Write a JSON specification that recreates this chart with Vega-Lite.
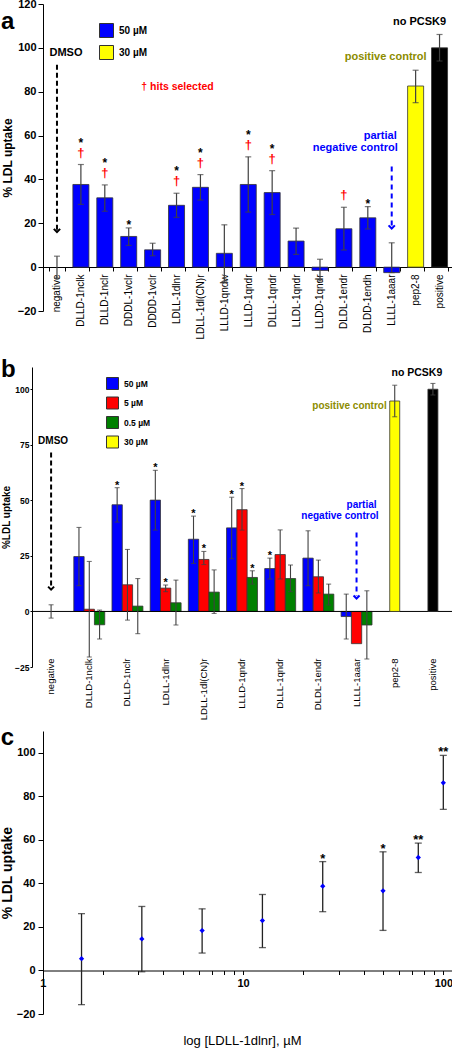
{
"$schema":"https://vega.github.io/schema/vega-lite/v6.json",
"padding":{"left":0,"top":-2,"right":0,"bottom":0},
"background":"white",
"config":{"font":"Liberation Sans","view":{"stroke":null},"axis":{"grid":false,"domainColor":"#000","tickColor":"#000","labelColor":"#000","titleColor":"#000","domainWidth":1,"tickWidth":1},"text":{"font":"Liberation Sans"}},
"resolve":{"scale":{"color":"independent"},"legend":{"color":"independent"}},
"datasets":{
"a":[
{"cat":"negative","v":null,"lo":-5,"hi":5,"grp":"50 µM","star":0,"dag":0},
{"cat":"DLLD-1nclk","v":37.7,"lo":28.6,"hi":46.8,"grp":"50 µM","star":1,"dag":1},
{"cat":"DLLD-1nclr","v":31.6,"lo":25.5,"hi":37.5,"grp":"50 µM","star":1,"dag":1},
{"cat":"DDDL-1vclr","v":14,"lo":9.9,"hi":17.9,"grp":"50 µM","star":1,"dag":0},
{"cat":"DDDD-1vclr","v":7.9,"lo":5.2,"hi":10.9,"grp":"50 µM","star":0,"dag":0},
{"cat":"LDLL-1dlnr","v":28.2,"lo":22.7,"hi":33.7,"grp":"50 µM","star":1,"dag":1},
{"cat":"LDLL-1dl(CN)r","v":36.4,"lo":30.6,"hi":42.2,"grp":"50 µM","star":1,"dag":1},
{"cat":"LLLD-1qndw","v":6.3,"lo":-6.7,"hi":19.3,"grp":"50 µM","star":0,"dag":0},
{"cat":"LLLD-1qndr","v":37.7,"lo":25.1,"hi":50.3,"grp":"50 µM","star":1,"dag":1},
{"cat":"DLLL-1qndr","v":34,"lo":24,"hi":44,"grp":"50 µM","star":1,"dag":1},
{"cat":"LLDL-1qndr","v":11.9,"lo":5.8,"hi":17.8,"grp":"50 µM","star":0,"dag":0},
{"cat":"LLDD-1qndr","v":-1.5,"lo":-6.3,"hi":3.6,"grp":"50 µM","star":0,"dag":0},
{"cat":"DLDL-1endr","v":17.5,"lo":7.8,"hi":27.3,"grp":"50 µM","star":0,"dag":1},
{"cat":"DLDD-1endh","v":22.5,"lo":17.4,"hi":27.6,"grp":"50 µM","star":1,"dag":0},
{"cat":"LLLL-1aaar","v":-2.5,"lo":-2.5,"hi":11.1,"grp":"50 µM","star":0,"dag":0},
{"cat":"pep2-8","v":82.6,"lo":75,"hi":89.8,"grp":"30 µM","star":0,"dag":0},
{"cat":"positive","v":100,"lo":94,"hi":106.1,"grp":"no PCSK9","star":0,"dag":0}
],
"bg":[
{"cat":"DLLD-1nclk","conc":"50 µM","v":24.7,"lo":11.6,"hi":37.8,"star":0},
{"cat":"DLLD-1nclk","conc":"5 µM","v":1,"lo":-20.5,"hi":22.5,"star":0},
{"cat":"DLLD-1nclk","conc":"0.5 µM","v":-6,"lo":-12.4,"hi":0.6,"star":0},
{"cat":"DLLD-1nclr","conc":"50 µM","v":48,"lo":40.2,"hi":55.7,"star":1},
{"cat":"DLLD-1nclr","conc":"5 µM","v":12,"lo":-3.9,"hi":27.9,"star":0},
{"cat":"DLLD-1nclr","conc":"0.5 µM","v":2.4,"lo":-10,"hi":14.8,"star":0},
{"cat":"LDLL-1dlnr","conc":"50 µM","v":50.1,"lo":36.6,"hi":63.5,"star":1},
{"cat":"LDLL-1dlnr","conc":"5 µM","v":10.5,"lo":8.9,"hi":11.9,"star":1},
{"cat":"LDLL-1dlnr","conc":"0.5 µM","v":3.9,"lo":-6.1,"hi":14.1,"star":0},
{"cat":"LDLL-1dl(CN)r","conc":"50 µM","v":32.5,"lo":21.6,"hi":42.9,"star":1},
{"cat":"LDLL-1dl(CN)r","conc":"5 µM","v":23.4,"lo":21.1,"hi":27,"star":1},
{"cat":"LDLL-1dl(CN)r","conc":"0.5 µM","v":8.7,"lo":-0.9,"hi":18.7,"star":0},
{"cat":"LLLD-1qndr","conc":"50 µM","v":37.6,"lo":23.7,"hi":51.4,"star":1},
{"cat":"LLLD-1qndr","conc":"5 µM","v":45.8,"lo":36.6,"hi":55.3,"star":1},
{"cat":"LLLD-1qndr","conc":"0.5 µM","v":15.3,"lo":12.3,"hi":18.3,"star":1},
{"cat":"DLLL-1qndr","conc":"50 µM","v":19.3,"lo":14.6,"hi":24,"star":1},
{"cat":"DLLL-1qndr","conc":"5 µM","v":25.6,"lo":14.6,"hi":36.7,"star":0},
{"cat":"DLLL-1qndr","conc":"0.5 µM","v":14.8,"lo":8.9,"hi":20.9,"star":0},
{"cat":"DLDL-1endr","conc":"50 µM","v":24,"lo":11.6,"hi":36.3,"star":0},
{"cat":"DLDL-1endr","conc":"5 µM","v":15.6,"lo":8.3,"hi":23.1,"star":0},
{"cat":"DLDL-1endr","conc":"0.5 µM","v":7.8,"lo":2.9,"hi":12.3,"star":0},
{"cat":"LLLL-1aaar","conc":"50 µM","v":-2.3,"lo":-12.4,"hi":7.8,"star":0},
{"cat":"LLLL-1aaar","conc":"5 µM","v":-14.5,"lo":null,"hi":null,"star":0},
{"cat":"LLLL-1aaar","conc":"0.5 µM","v":-6.1,"lo":-21.4,"hi":9.3,"star":0}
],
"bs":[
{"cat":"negative","conc":"50 µM","v":null,"lo":-3,"hi":3},
{"cat":"pep2-8","conc":"30 µM","v":94.7,"lo":87.6,"hi":101.8},
{"cat":"positive","conc":"no PCSK9","v":100,"lo":97.4,"hi":102.6}
],
"c":[
{"conc":1.5625,"v":5.4,"lo":-15.7,"hi":26.1,"lab":""},
{"conc":3.125,"v":14.5,"lo":-0.6,"hi":29.4,"lab":""},
{"conc":6.25,"v":18.3,"lo":8,"hi":28.3,"lab":""},
{"conc":12.5,"v":22.9,"lo":10.5,"hi":34.9,"lab":""},
{"conc":25,"v":38.7,"lo":27,"hi":50,"lab":"*"},
{"conc":50,"v":36.6,"lo":18.4,"hi":54.5,"lab":"*"},
{"conc":75,"v":51.9,"lo":45,"hi":58.5,"lab":"**"},
{"conc":100,"v":86.2,"lo":74,"hi":98.8,"lab":"**"}
]
},
"concat":[
{
"width":420,"height":307,
"data":{"name":"a"},
"layer":[
{"mark":{"type":"bar","stroke":"#333333","strokeWidth":0.8},
"encoding":{
"x":{"field":"cat","type":"nominal","sort":null,"scale":{"domain":["negative","DLLD-1nclk","DLLD-1nclr","DDDL-1vclr","DDDD-1vclr","LDLL-1dlnr","LDLL-1dl(CN)r","LLLD-1qndw","LLLD-1qndr","DLLL-1qndr","LLDL-1qndr","LLDD-1qndr","DLDL-1endr","DLDD-1endh","LLLL-1aaar","pep2-8","positive"],"paddingInner":0.33,"paddingOuter":0.448,"align":0.792},
"axis":{"title":" ","titleFontSize":10,"titlePadding":3,"labelAngle":-90,"labelFontSize":10,"labelPadding":3,"offset":-44,"tickBand":"extent","tickSize":4,"labelOverlap":false,"domainDash":[0,11,1000]}},
"y":{"field":"v","type":"quantitative","scale":{"domain":[-20,120],"nice":false},
"axis":{"title":"% LDL uptake","offset":-11,"values":[-20,0,20,40,60,80,100,120],"labelFontSize":11,"labelFontWeight":"bold","titleFontSize":12,"titleFontWeight":"bold","titlePadding":3,"labelPadding":2,"tickSize":5}},
"color":{"field":"grp","type":"nominal","sort":null,"scale":{"domain":["50 µM","30 µM","no PCSK9"],"range":["#0000ff","#ffff00","#000000"]},
"legend":{"values":["50 µM","30 µM"],"orient":"none","legendX":67,"legendY":19,"title":null,"symbolType":"square","symbolSize":196,"symbolStrokeColor":"#333333","symbolStrokeWidth":1,"symbolOpacity":1,"labelFontSize":10,"labelFontWeight":"bold","labelOffset":5,"rowPadding":3,"padding":0}}
}},
{"mark":{"type":"rule","color":"#404040","strokeWidth":1.2},
"encoding":{"x":{"field":"cat","type":"nominal","sort":null},"y":{"field":"lo","type":"quantitative"},"y2":{"field":"hi"}}},
{"mark":{"type":"tick","color":"#404040","orient":"horizontal","size":6,"thickness":1.2},
"encoding":{"x":{"field":"cat","type":"nominal","sort":null},"y":{"field":"hi","type":"quantitative"}}},
{"mark":{"type":"tick","color":"#404040","orient":"horizontal","size":6,"thickness":1.2},
"encoding":{"x":{"field":"cat","type":"nominal","sort":null},"y":{"field":"lo","type":"quantitative"}}},
{"transform":[{"filter":"datum.dag==1"}],
"mark":{"type":"text","text":"†","color":"#ff0000","fontSize":13,"fontWeight":"bold","baseline":"alphabetic","dy":-8},
"encoding":{"x":{"field":"cat","type":"nominal","sort":null},"y":{"field":"hi","type":"quantitative"}}},
{"transform":[{"filter":"datum.dag==1 && datum.star==1"}],
"mark":{"type":"text","text":"*","color":"#000","fontSize":12,"fontWeight":"bold","baseline":"alphabetic","dy":-18},
"encoding":{"x":{"field":"cat","type":"nominal","sort":null},"y":{"field":"hi","type":"quantitative"}}},
{"transform":[{"filter":"datum.dag!=1 && datum.star==1"}],
"mark":{"type":"text","text":"*","color":"#000","fontSize":12,"fontWeight":"bold","baseline":"alphabetic","dy":1},
"encoding":{"x":{"field":"cat","type":"nominal","sort":null},"y":{"field":"hi","type":"quantitative"}}},
{"data":{"values":[{}]},"mark":{"type":"rule","strokeDash":[5,3],"strokeWidth":2,"color":"#000"},
"encoding":{"x":{"datum":"negative","type":"nominal"},"y":{"datum":92.3,"type":"quantitative"},"y2":{"datum":17}}},
{"data":{"values":[{}]},"mark":{"type":"point","shape":"M-1,-1L0,0L1,-1","filled":false,"stroke":"#000","strokeWidth":2,"size":40,"opacity":1},
"encoding":{"x":{"datum":"negative","type":"nominal"},"y":{"datum":16,"type":"quantitative"}}},
{"data":{"values":[{}]},"mark":{"type":"text","text":"DMSO","fontSize":11,"fontWeight":"bold","dx":9,"color":"#000"},
"encoding":{"x":{"datum":"negative","type":"nominal"},"y":{"datum":97.7,"type":"quantitative"}}},
{"data":{"values":[{}]},"mark":{"type":"rule","strokeDash":[5,4],"strokeWidth":2,"color":"#0000ff"},
"encoding":{"x":{"datum":"LLLL-1aaar","type":"nominal"},"y":{"datum":45.9,"type":"quantitative"},"y2":{"datum":18.5}}},
{"data":{"values":[{}]},"mark":{"type":"point","shape":"M-1,-1L0,0L1,-1","filled":false,"stroke":"#0000ff","strokeWidth":2,"size":40,"opacity":1},
"encoding":{"x":{"datum":"LLLL-1aaar","type":"nominal"},"y":{"datum":17.6,"type":"quantitative"}}},
{"data":{"values":[{}]},"mark":{"type":"text","text":"partial","fontSize":11,"fontWeight":"bold","align":"right","dx":5,"color":"#0000ff"},
"encoding":{"x":{"datum":"LLLL-1aaar","type":"nominal"},"y":{"datum":60,"type":"quantitative"}}},
{"data":{"values":[{}]},"mark":{"type":"text","text":"negative control","fontSize":11,"fontWeight":"bold","align":"right","dx":6,"color":"#0000ff"},
"encoding":{"x":{"datum":"LLLL-1aaar","type":"nominal"},"y":{"datum":54.5,"type":"quantitative"}}},
{"data":{"values":[{}]},"mark":{"type":"text","text":"positive control","fontSize":11,"fontWeight":"bold","align":"right","dx":11,"color":"#8c8c00"},
"encoding":{"x":{"datum":"pep2-8","type":"nominal"},"y":{"datum":96,"type":"quantitative"}}},
{"data":{"values":[{}]},"mark":{"type":"text","text":"no PCSK9","fontSize":11,"fontWeight":"bold","dx":-20,"color":"#000"},
"encoding":{"x":{"datum":"positive","type":"nominal"},"y":{"datum":111.9,"type":"quantitative"}}},
{"data":{"values":[{}]},"mark":{"type":"text","text":"† hits selected","fontSize":10.5,"fontWeight":"bold","dx":1,"color":"#ff0000"},
"encoding":{"x":{"datum":"LDLL-1dlnr","type":"nominal"},"y":{"datum":82.3,"type":"quantitative"}}},
{"data":{"values":[{}]},"mark":{"type":"text","text":"a","fontSize":24,"fontWeight":"bold","align":"left","dx":-56,"color":"#000"},
"encoding":{"x":{"datum":"negative","type":"nominal"},"y":{"datum":112,"type":"quantitative"}}}
]
},
{
"width":420,"height":300,
"layer":[
{"data":{"name":"bg"},"mark":{"type":"bar","stroke":"#333333","strokeWidth":0.8},
"encoding":{
"x":{"field":"cat","type":"nominal","sort":null,"scale":{"domain":["negative","DLLD-1nclk","DLLD-1nclr","LDLL-1dlnr","LDLL-1dl(CN)r","LLLD-1qndr","DLLL-1qndr","DLDL-1endr","LLLL-1aaar","pep2-8","positive"],"paddingInner":0.19,"paddingOuter":0.095},
"axis":{"title":null,"labelAngle":-90,"labelFontSize":9.5,"labelPadding":2,"offset":-11,"domain":false,"ticks":false,"labelOverlap":false}},
"xOffset":{"field":"conc","type":"nominal","sort":null,"scale":{"domain":["50 µM","5 µM","0.5 µM"],"paddingInner":0,"paddingOuter":0}},
"y":{"field":"v","type":"quantitative","scale":{"domain":[-25,110],"nice":false},"axis":{"title":"%LDL uptake","values":[-25,0,25,50,75,100],"labelFontSize":8.5,"labelFontWeight":"bold","titleFontSize":10,"titleFontWeight":"bold","titlePadding":3,"labelPadding":1,"tickSize":2}},
"color":{"field":"conc","type":"nominal","sort":null,"scale":{"domain":["50 µM","5 µM","0.5 µM","30 µM","no PCSK9"],"range":["#0000ff","#ff0000","#008000","#ffff00","#000000"]},
"legend":{"values":["50 µM","5 µM","0.5 µM","30 µM"],"orient":"none","legendX":74,"legendY":10,"title":null,"symbolType":"square","symbolSize":144,"symbolStrokeColor":"#333333","symbolStrokeWidth":1,"symbolOpacity":1,"labelFontSize":8.5,"labelFontWeight":"bold","labelOffset":5,"rowPadding":2.5,"padding":0}}
}},
{"data":{"values":[{}]},"mark":{"type":"rule","color":"#000","strokeWidth":1},
"encoding":{"y":{"datum":0,"type":"quantitative"}}},
{"data":{"name":"bg"},"mark":{"type":"rule","color":"#404040","strokeWidth":1.1},
"encoding":{"x":{"field":"cat","type":"nominal","sort":null},"xOffset":{"field":"conc","type":"nominal","sort":null},"y":{"field":"lo","type":"quantitative"},"y2":{"field":"hi"}}},
{"data":{"name":"bg"},"mark":{"type":"tick","color":"#404040","orient":"horizontal","size":5,"thickness":1.1},
"encoding":{"x":{"field":"cat","type":"nominal","sort":null},"xOffset":{"field":"conc","type":"nominal","sort":null},"y":{"field":"hi","type":"quantitative"}}},
{"data":{"name":"bg"},"mark":{"type":"tick","color":"#404040","orient":"horizontal","size":5,"thickness":1.1},
"encoding":{"x":{"field":"cat","type":"nominal","sort":null},"xOffset":{"field":"conc","type":"nominal","sort":null},"y":{"field":"lo","type":"quantitative"}}},
{"data":{"name":"bg"},"transform":[{"filter":"datum.star==1"}],"mark":{"type":"text","text":"*","color":"#000","fontSize":11,"fontWeight":"bold","baseline":"alphabetic","dy":1},
"encoding":{"x":{"field":"cat","type":"nominal","sort":null},"xOffset":{"field":"conc","type":"nominal","sort":null},"y":{"field":"hi","type":"quantitative"}}},
{"data":{"name":"bs"},"mark":{"type":"bar","stroke":"#333333","strokeWidth":0.8,"width":10},
"encoding":{"x":{"field":"cat","type":"nominal","sort":null},"y":{"field":"v","type":"quantitative"},"color":{"field":"conc","type":"nominal","sort":null,"scale":{"domain":["50 µM","5 µM","0.5 µM","30 µM","no PCSK9"],"range":["#0000ff","#ff0000","#008000","#ffff00","#000000"]}}}},
{"data":{"name":"bs"},"mark":{"type":"rule","color":"#404040","strokeWidth":1.1},
"encoding":{"x":{"field":"cat","type":"nominal","sort":null},"y":{"field":"lo","type":"quantitative"},"y2":{"field":"hi"}}},
{"data":{"name":"bs"},"mark":{"type":"tick","color":"#404040","orient":"horizontal","size":5,"thickness":1.1},
"encoding":{"x":{"field":"cat","type":"nominal","sort":null},"y":{"field":"hi","type":"quantitative"}}},
{"data":{"name":"bs"},"mark":{"type":"tick","color":"#404040","orient":"horizontal","size":5,"thickness":1.1},
"encoding":{"x":{"field":"cat","type":"nominal","sort":null},"y":{"field":"lo","type":"quantitative"}}},
{"data":{"values":[{}]},"mark":{"type":"rule","strokeDash":[5,3],"strokeWidth":2,"color":"#000"},
"encoding":{"x":{"datum":"negative","type":"nominal"},"y":{"datum":71.5,"type":"quantitative"},"y2":{"datum":11}}},
{"data":{"values":[{}]},"mark":{"type":"point","shape":"M-1,-1L0,0L1,-1","filled":false,"stroke":"#000","strokeWidth":2,"size":36,"opacity":1},
"encoding":{"x":{"datum":"negative","type":"nominal"},"y":{"datum":9.8,"type":"quantitative"}}},
{"data":{"values":[{}]},"mark":{"type":"text","text":"DMSO","fontSize":10,"fontWeight":"bold","dx":2,"color":"#000"},
"encoding":{"x":{"datum":"negative","type":"nominal"},"y":{"datum":76.7,"type":"quantitative"}}},
{"data":{"values":[{}]},"mark":{"type":"rule","strokeDash":[5,4],"strokeWidth":2,"color":"#0000ff"},
"encoding":{"x":{"datum":"LLLL-1aaar","type":"nominal"},"y":{"datum":35.5,"type":"quantitative"},"y2":{"datum":7}}},
{"data":{"values":[{}]},"mark":{"type":"point","shape":"M-1,-1L0,0L1,-1","filled":false,"stroke":"#0000ff","strokeWidth":2,"size":36,"opacity":1},
"encoding":{"x":{"datum":"LLLL-1aaar","type":"nominal"},"y":{"datum":5.8,"type":"quantitative"}}},
{"data":{"values":[{}]},"mark":{"type":"text","text":"partial","fontSize":10,"fontWeight":"bold","align":"right","dx":20,"color":"#0000ff"},
"encoding":{"x":{"datum":"LLLL-1aaar","type":"nominal"},"y":{"datum":48,"type":"quantitative"}}},
{"data":{"values":[{}]},"mark":{"type":"text","text":"negative control","fontSize":10,"fontWeight":"bold","align":"right","dx":22,"color":"#0000ff"},
"encoding":{"x":{"datum":"LLLL-1aaar","type":"nominal"},"y":{"datum":43,"type":"quantitative"}}},
{"data":{"values":[{}]},"mark":{"type":"text","text":"positive control","fontSize":10,"fontWeight":"bold","align":"right","dx":-8,"color":"#8c8c00"},
"encoding":{"x":{"datum":"pep2-8","type":"nominal"},"y":{"datum":92.5,"type":"quantitative"}}},
{"data":{"values":[{}]},"mark":{"type":"text","text":"no PCSK9","fontSize":10.5,"fontWeight":"bold","dx":-16,"color":"#000"},
"encoding":{"x":{"datum":"positive","type":"nominal"},"y":{"datum":107.3,"type":"quantitative"}}},
{"data":{"values":[{}]},"mark":{"type":"text","text":"b","fontSize":24,"fontWeight":"bold","align":"left","dx":-50,"color":"#000"},
"encoding":{"x":{"datum":"negative","type":"nominal"},"y":{"datum":108.5,"type":"quantitative"}}}
]
},
{
"width":420,"height":283,
"data":{"name":"c"},
"layer":[
{"mark":{"type":"rule","color":"#222222","strokeWidth":1.3},
"encoding":{
"x":{"field":"conc","type":"quantitative","scale":{"type":"log","domain":[0.8842,110.5],"nice":false},
"axis":{"title":"log [LDLL-1dlnr], µM","titleFontSize":13,"titleFontWeight":"normal","titlePadding":46,"values":[1,2,3,4,5,6,7,8,9,10,20,30,40,50,60,70,80,90,100],"labelExpr":"indexof([1,10,100], datum.value) >= 0 ? '' + datum.value : ''","labelFlush":false,"labelOverlap":false,"labelFontSize":11,"labelFontWeight":"bold","offset":-43.5,"tickSize":4,"labelPadding":3,"domainDash":[0,11,1000]}},
"y":{"field":"lo","type":"quantitative","scale":{"domain":[-20,110],"nice":false},
"axis":{"title":"% LDL uptake","offset":-11,"values":[-20,0,20,40,60,80,100],"labelFontSize":11,"labelFontWeight":"bold","titleFontSize":14,"titleFontWeight":"bold","titlePadding":2,"labelPadding":3,"tickSize":5}},
"y2":{"field":"hi"}}},
{"mark":{"type":"tick","color":"#222222","orient":"horizontal","size":7,"thickness":1.3},
"encoding":{"x":{"field":"conc","type":"quantitative"},"y":{"field":"hi","type":"quantitative"}}},
{"mark":{"type":"tick","color":"#222222","orient":"horizontal","size":7,"thickness":1.3},
"encoding":{"x":{"field":"conc","type":"quantitative"},"y":{"field":"lo","type":"quantitative"}}},
{"mark":{"type":"point","shape":"diamond","filled":true,"color":"#0000ff","size":28,"opacity":1},
"encoding":{"x":{"field":"conc","type":"quantitative"},"y":{"field":"v","type":"quantitative"}}},
{"mark":{"type":"text","color":"#000","fontSize":13,"fontWeight":"bold","baseline":"alphabetic","dy":1},
"encoding":{"x":{"field":"conc","type":"quantitative"},"y":{"field":"hi","type":"quantitative"},"text":{"field":"lab"}}},
{"data":{"values":[{}]},"mark":{"type":"text","text":"c","fontSize":24,"fontWeight":"bold","align":"left","dx":-42,"color":"#000"},
"encoding":{"x":{"datum":1,"type":"quantitative"},"y":{"datum":106.8,"type":"quantitative"}}}
]
}
],
"columns":1,
"align":"none",
"spacing":5
}
